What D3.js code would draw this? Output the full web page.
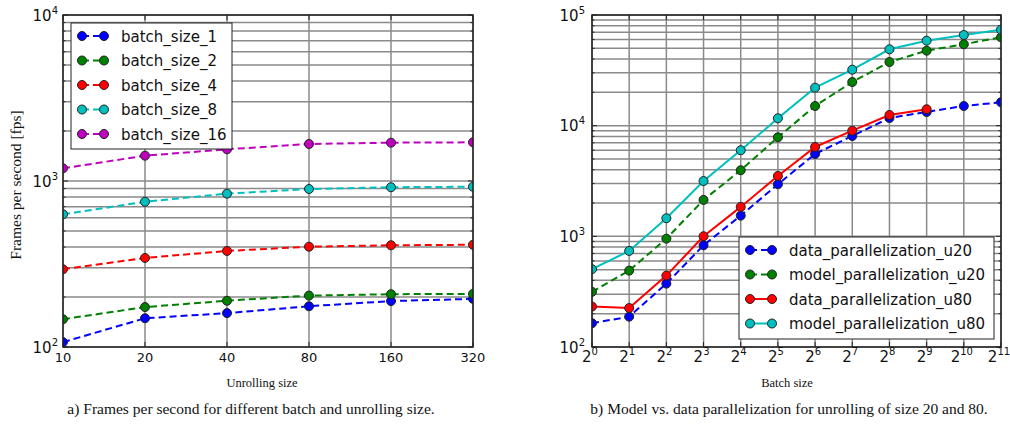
<!DOCTYPE html>
<html>
<head>
<meta charset="utf-8">
<script src="https://cdn.jsdelivr.net/npm/d3@7"></script>
<style>
body { margin: 0; background: #fff; }
svg { display: block; }
</style>
</head>
<body>
<div class="chart"></div>
<script>
// panel a) - fps vs unrolling size
const unrollSizes = [10, 20, 40, 80, 160, 320]
const batchNames = ['batch_size_1', 'batch_size_2', 'batch_size_4', 'batch_size_8', 'batch_size_16']
const bs1 = [107, 149, 160, 176, 189, 195]
const bs2 = [147, 174, 190, 204, 208, 209]
const bs4 = [294, 344, 379, 402, 410, 413]
const bs8 = [630, 750, 839, 895, 917, 924]
const bs16 = [1192, 1421, 1552, 1671, 1702, 1710]

// panel b) - model vs data parallelization
const batchSizes = [1, 2, 4, 8, 16, 32, 64, 128, 256, 512, 1024, 2048]
const parNames = ['data_parallelization_u20', 'model_parallelization_u20', 'data_parallelization_u80', 'model_parallelization_u80']
const dataU20 = [164, 188, 374, 830, 1538, 2955, 5550, 8070, 11740, 13300, 15060, 16270]
const modelU20 = [315, 490, 953, 2133, 3955, 7850, 15060, 24800, 37600, 47600, 54400, 62900]
const dataU80 = [232, 225, 442, 1002, 1845, 3515, 6420, 9010, 12490, 14070]
const modelU80 = [505, 738, 1457, 3160, 5995, 11660, 22050, 32060, 48980, 58600, 65980, 73600]

const sans = 'DejaVu Sans, sans-serif'
const serif = 'Liberation Serif, Times New Roman, serif'
const gridColor = '#8a8a8a'
const frameColor = '#222'

const svg = d3.select('.chart')
	.append('svg')
	.attr('width', 1010)
	.attr('height', 425)
	.style('background', '#fff')

function drawPanel(p) {
	const g = svg.append('g')
	const x = p.x, y = p.y
	const [x0, x1] = x.range()
	const [y0, y1] = y.range()

	g.append('clipPath').attr('id', p.id)
		.append('rect')
		.attr('x', x0).attr('y', y1)
		.attr('width', x1 - x0).attr('height', y0 - y1)

	// horizontal grid (major + minor)
	g.append('g').selectAll('line')
		.data(y.ticks())
		.enter()
		.append('line')
		.attr('x1', x0).attr('x2', x1)
		.attr('y1', d => y(d)).attr('y2', d => y(d))
		.attr('stroke', gridColor)
		.attr('stroke-width', 1.5)

	// vertical grid
	g.append('g').selectAll('line')
		.data(p.xTicks)
		.enter()
		.append('line')
		.attr('x1', d => x(d)).attr('x2', d => x(d))
		.attr('y1', y1).attr('y2', y0)
		.attr('stroke', gridColor)
		.attr('stroke-width', 1.5)

	// inward tick marks
	const major = y.ticks().filter(d => Math.abs(Math.log10(d) - Math.round(Math.log10(d))) < 1e-9)
	const ticks = g.append('g').attr('stroke', frameColor).attr('stroke-width', 1)
	y.ticks().forEach(d => {
		const len = major.includes(d) ? 5 : 2.5
		ticks.append('line').attr('x1', x0).attr('x2', x0 + len).attr('y1', y(d)).attr('y2', y(d))
		ticks.append('line').attr('x1', x1).attr('x2', x1 - len).attr('y1', y(d)).attr('y2', y(d))
	})
	p.xTicks.forEach(d => {
		ticks.append('line').attr('x1', x(d)).attr('x2', x(d)).attr('y1', y1).attr('y2', y1 + 5)
		ticks.append('line').attr('x1', x(d)).attr('x2', x(d)).attr('y1', y0).attr('y2', y0 - 5)
	})

	// series
	p.series.forEach(s => {
		const sg = g.append('g').attr('clip-path', `url(#${p.id})`)
		const pts = s.values.map((v, i) => [p.xValues[i], v])
		sg.append('path')
			.datum(pts)
			.attr('fill', 'none')
			.attr('stroke', s.color)
			.attr('stroke-width', 2)
			.attr('stroke-dasharray', s.dashed ? '7,4' : null)
			.attr('d', d3.line().x(d => x(d[0])).y(d => y(d[1])))
		sg.selectAll('circle')
			.data(pts)
			.enter()
			.append('circle')
			.attr('cx', d => x(d[0]))
			.attr('cy', d => y(d[1]))
			.attr('r', 4.5)
			.attr('fill', s.color)
			.attr('stroke', frameColor)
			.attr('stroke-width', 1)
	})

	// frame
	g.append('rect')
		.attr('x', x0).attr('y', y1)
		.attr('width', x1 - x0).attr('height', y0 - y1)
		.attr('fill', 'none')
		.attr('stroke', frameColor)
		.attr('stroke-width', 1.5)

	// y tick labels 10^n
	major.forEach(d => {
		const t = g.append('text')
			.attr('x', x0 - p.yLabelGap)
			.attr('y', y(d) + 5.5)
			.attr('text-anchor', 'end')
			.attr('font-family', sans)
			.attr('fill', '#111')
		t.append('tspan').attr('font-size', 15).text('10')
		t.append('tspan').attr('font-size', 10).attr('dy', -7).text(Math.round(Math.log10(d)))
	})

	// x tick labels
	p.xTicks.forEach((d, i) => {
		const t = g.append('text')
			.attr('x', x(d))
			.attr('y', 361.5)
			.attr('text-anchor', 'middle')
			.attr('font-family', sans)
			.attr('fill', '#111')
		if (p.pow2) {
			t.attr('x', x(d) - 2)
			t.append('tspan').attr('font-size', 15).text('2')
			t.append('tspan').attr('font-size', 10).attr('dy', -7).text(Math.round(Math.log2(d)))
		} else {
			t.attr('font-size', 13).text(d)
		}
	})

	// axis title + caption
	g.append('text')
		.attr('x', p.titleX)
		.attr('y', 387)
		.attr('text-anchor', 'middle')
		.attr('font-family', serif)
		.attr('font-size', 12.5)
		.attr('fill', '#111')
		.text(p.xTitle)
	g.append('text')
		.attr('x', p.captionX)
		.attr('y', 414)
		.attr('text-anchor', 'middle')
		.attr('font-family', serif)
		.attr('font-size', 15.5)
		.attr('fill', '#111')
		.text(p.caption)

	// legend
	const lg = g.append('g')
	lg.append('rect')
		.attr('x', p.legend.x).attr('y', p.legend.y)
		.attr('width', p.legend.w).attr('height', p.legend.h)
		.attr('fill', '#fff')
		.attr('stroke', frameColor)
		.attr('stroke-width', 1)
	p.series.forEach((s, i) => {
		const ly = p.legend.y + 13 + i * 24.5
		const lx = p.legend.x + 11
		lg.append('line')
			.attr('x1', lx).attr('x2', lx + 22)
			.attr('y1', ly).attr('y2', ly)
			.attr('stroke', s.color)
			.attr('stroke-width', 2)
			.attr('stroke-dasharray', s.dashed ? '7,4' : null)
		;[lx, lx + 22].forEach(cx => {
			lg.append('circle')
				.attr('cx', cx).attr('cy', ly)
				.attr('r', 4.5)
				.attr('fill', s.color)
				.attr('stroke', frameColor)
				.attr('stroke-width', 1)
		})
		lg.append('text')
			.attr('x', lx + 39)
			.attr('y', ly + 5.5)
			.attr('font-family', sans)
			.attr('font-size', 15)
			.attr('fill', '#111')
			.text(s.name)
	})
}

const colors = ['#0000ff', '#008000', '#ff0000', '#00bfbf', '#bf00bf']

drawPanel({
	id: 'clipA',
	x: d3.scaleLog().base(2).domain([10, 320]).range([63, 473]),
	y: d3.scaleLog().domain([100, 10000]).range([347, 15]),
	xTicks: unrollSizes,
	xValues: unrollSizes,
	pow2: false,
	yLabelGap: 5,
	series: [bs1, bs2, bs4, bs8, bs16].map((v, i) => ({name: batchNames[i], values: v, color: colors[i], dashed: true})),
	xTitle: 'Unrolling size',
	titleX: 262,
	caption: 'a) Frames per second for different batch and unrolling size.',
	captionX: 251,
	legend: {x: 71, y: 23, w: 161, h: 126}
})

drawPanel({
	id: 'clipB',
	x: d3.scaleLog().base(2).domain([1, 2048]).range([592, 1001]),
	y: d3.scaleLog().domain([100, 100000]).range([347, 15]),
	xTicks: batchSizes,
	xValues: batchSizes,
	pow2: true,
	yLabelGap: 7,
	series: [
		{name: parNames[0], values: dataU20, color: colors[0], dashed: true},
		{name: parNames[1], values: modelU20, color: colors[1], dashed: true},
		{name: parNames[2], values: dataU80, color: colors[2], dashed: false},
		{name: parNames[3], values: modelU80, color: colors[3], dashed: false}
	],
	xTitle: 'Batch size',
	titleX: 787,
	caption: 'b) Model vs. data parallelization for unrolling of size 20 and 80.',
	captionX: 789,
	legend: {x: 739, y: 237, w: 255, h: 102}
})

// y axis title (left panel only)
svg.append('text')
	.attr('transform', 'translate(21, 185) rotate(-90)')
	.attr('text-anchor', 'middle')
	.attr('font-family', serif)
	.attr('font-size', 15.5)
	.attr('fill', '#111')
	.text('Frames per second [fps]')
</script>
</body>
</html>
